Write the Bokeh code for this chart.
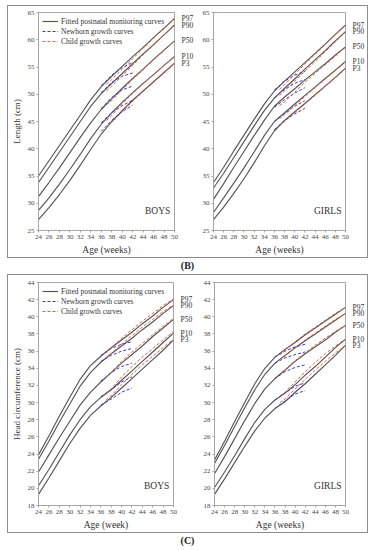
from bokeh.plotting import figure
from bokeh.layouts import row, column
from bokeh.models import (Div, Label, LinearAxis, FixedTicker, Legend, LegendItem, Range1d)
from bokeh.embed import file_html
from bokeh.resources import INLINE

# ---------------- data ----------------
WEEKS = [24, 26, 28, 30, 32, 34, 36, 38, 40, 42, 44, 46, 48, 50]
NEWBORN_WEEKS = [36, 38, 40, 42]
CHILD_WEEKS = [37, 38, 40, 42, 44, 46, 48, 50]
PERCENTILES = ["P97", "P90", "P50", "P10", "P3"]
X_TICKS = [24, 26, 28, 30, 32, 34, 36, 38, 40, 42, 44, 46, 48, 50]
LEN_TICKS = [25, 30, 35, 40, 45, 50, 55, 60, 65]
HC_TICKS = [18, 20, 22, 24, 26, 28, 30, 32, 34, 36, 38, 40, 42, 44]

# Length (cm), boys
BOYS_LEN_FIT = [
    [35.0, 37.8, 40.6, 43.4, 46.2, 49.0, 51.4, 53.3, 55.1, 56.9, 58.6, 60.4, 62.1, 63.9],
    [33.8, 36.6, 39.4, 42.2, 45.0, 47.8, 50.1, 52.0, 53.8, 55.6, 57.4, 59.1, 60.9, 62.7],
    [31.2, 33.8, 36.5, 39.3, 42.1, 44.8, 47.2, 49.2, 51.1, 52.9, 54.6, 56.4, 58.1, 59.8],
    [28.7, 31.0, 33.5, 36.2, 39.0, 41.9, 44.5, 46.6, 48.5, 50.3, 52.0, 53.6, 55.3, 56.9],
    [27.0, 29.2, 31.6, 34.2, 37.0, 39.9, 42.7, 45.0, 47.0, 48.9, 50.6, 52.3, 54.0, 55.7],
]
BOYS_LEN_NEWBORN = [
    [51.6, 53.5, 54.9, 55.8],
    [50.3, 52.2, 53.3, 53.9],
    [47.4, 49.4, 50.8, 51.5],
    [44.8, 46.6, 47.9, 48.9],
    [43.2, 45.2, 46.8, 48.0],
]
BOYS_LEN_CHILD = [
    [51.8, 52.7, 54.6, 56.5, 58.4, 60.3, 62.1, 63.9],
    [50.6, 51.5, 53.4, 55.3, 57.2, 59.0, 60.9, 62.7],
    [48.1, 48.8, 50.8, 52.7, 54.5, 56.3, 58.0, 59.8],
    [45.2, 46.1, 48.2, 50.1, 51.9, 53.6, 55.3, 57.0],
    [44.1, 44.8, 46.8, 48.7, 50.5, 52.2, 53.9, 55.6],
]

# Length (cm), girls
GIRLS_LEN_FIT = [
    [33.8, 36.6, 39.6, 42.5, 45.4, 48.2, 50.6, 52.4, 54.1, 55.8, 57.5, 59.2, 61.0, 62.7],
    [32.8, 35.5, 38.4, 41.3, 44.2, 47.0, 49.3, 51.1, 52.8, 54.6, 56.3, 58.0, 59.8, 61.5],
    [30.7, 33.6, 36.6, 39.5, 42.4, 45.2, 47.8, 49.5, 51.0, 52.6, 54.1, 55.6, 57.2, 58.7],
    [28.3, 31.0, 33.7, 36.5, 39.4, 42.4, 45.0, 46.6, 48.2, 49.8, 51.3, 52.9, 54.4, 56.0],
    [27.0, 29.3, 31.8, 34.5, 37.4, 40.5, 43.3, 45.2, 46.8, 48.3, 49.9, 51.5, 53.1, 54.8],
]
GIRLS_LEN_NEWBORN = [
    [50.8, 52.4, 53.5, 54.2],
    [49.4, 50.9, 52.0, 52.7],
    [47.6, 49.0, 50.2, 51.2],
    [45.0, 46.5, 47.8, 48.8],
    [43.5, 45.2, 46.4, 47.4],
]
GIRLS_LEN_CHILD = [
    [50.9, 51.8, 53.7, 55.5, 57.3, 59.1, 60.9, 62.7],
    [49.8, 50.6, 52.4, 54.2, 56.0, 57.8, 59.6, 61.4],
    [47.9, 48.6, 50.4, 52.2, 53.8, 55.4, 57.0, 58.6],
    [45.5, 46.2, 47.9, 49.6, 51.2, 52.8, 54.4, 56.0],
    [44.2, 45.0, 46.6, 48.2, 49.8, 51.4, 53.0, 54.7],
]

# Head circumference (cm), boys
BOYS_HC_FIT = [
    [23.9, 26.1, 28.4, 30.6, 32.7, 34.3, 35.4, 36.4, 37.3, 38.2, 39.2, 40.1, 41.1, 42.0],
    [23.4, 25.5, 27.7, 29.8, 31.9, 33.5, 34.7, 35.7, 36.6, 37.5, 38.5, 39.4, 40.4, 41.3],
    [21.9, 23.9, 25.9, 27.8, 29.7, 31.2, 32.4, 33.5, 34.6, 35.6, 36.6, 37.7, 38.7, 39.7],
    [20.3, 22.2, 24.2, 26.2, 28.0, 29.5, 30.6, 31.5, 32.6, 33.7, 34.8, 35.9, 37.0, 38.1],
    [19.3, 21.2, 23.2, 25.2, 27.0, 28.5, 29.6, 30.6, 31.7, 32.8, 33.9, 35.0, 36.1, 37.3],
]
BOYS_HC_NEWBORN = [
    [35.5, 36.3, 36.8, 37.1],
    [34.8, 35.5, 36.0, 36.3],
    [32.5, 33.5, 34.2, 34.6],
    [30.7, 31.5, 32.4, 33.0],
    [29.7, 30.4, 31.2, 31.7],
]
BOYS_HC_CHILD = [
    [35.8, 36.4, 37.5, 38.5, 39.5, 40.4, 41.3, 42.1],
    [35.2, 35.7, 36.8, 37.8, 38.8, 39.7, 40.6, 41.4],
    [33.0, 33.5, 34.8, 35.9, 36.9, 37.9, 38.9, 39.8],
    [31.1, 31.6, 33.0, 34.2, 35.3, 36.3, 37.3, 38.3],
    [30.3, 30.8, 32.1, 33.3, 34.4, 35.4, 36.4, 37.4],
]

# Head circumference (cm), girls
GIRLS_HC_FIT = [
    [23.3, 25.5, 27.8, 30.0, 32.2, 34.0, 35.3, 36.2, 37.0, 37.9, 38.7, 39.5, 40.3, 41.1],
    [22.9, 25.0, 27.2, 29.4, 31.5, 33.3, 34.6, 35.5, 36.4, 37.2, 38.0, 38.8, 39.6, 40.4],
    [21.7, 23.7, 25.8, 27.9, 29.9, 31.6, 32.8, 33.8, 34.8, 35.7, 36.5, 37.3, 38.2, 39.0],
    [20.1, 21.9, 23.8, 25.8, 27.7, 29.2, 30.3, 31.1, 32.1, 33.2, 34.2, 35.3, 36.4, 37.4],
    [19.3, 21.1, 23.0, 24.9, 26.7, 28.2, 29.3, 30.1, 31.2, 32.2, 33.3, 34.4, 35.5, 36.7],
]
GIRLS_HC_NEWBORN = [
    [35.3, 36.0, 36.5, 36.8],
    [34.6, 35.2, 35.6, 35.9],
    [32.8, 33.6, 34.1, 34.4],
    [30.3, 31.1, 31.9, 32.3],
    [29.3, 30.2, 31.0, 31.4],
]
GIRLS_HC_CHILD = [
    [35.6, 36.1, 37.1, 38.0, 38.8, 39.6, 40.4, 41.1],
    [34.9, 35.4, 36.4, 37.3, 38.1, 38.9, 39.7, 40.4],
    [33.3, 33.8, 34.9, 35.8, 36.7, 37.5, 38.3, 39.0],
    [30.8, 31.2, 32.4, 33.6, 34.7, 35.7, 36.6, 37.4],
    [30.0, 30.4, 31.6, 32.7, 33.8, 34.8, 35.8, 36.6],
]

LEGEND_LABELS = ["Fitted postnatal monitoring curves", "Newborn growth curves", "Child growth curves"]

# ---------------- style ----------------
FONT = "Liberation Serif"
FIT_COLOR = "#555555"
NB_COLOR = "#3b3bd0"
CH_COLOR = "#e2603f"
FRAME_COLOR = "#a6a6a6"
TEXT_COLOR = "#4a4a4a"
TITLE_COLOR = "#333333"


def make_panel(fit, newborn, child, yticks, ytitle, xtitle, sex, w, h,
               bl, br, bt, bb, legend):
    p = figure(width=w, height=h, x_range=Range1d(X_TICKS[0], X_TICKS[-1]),
               y_range=Range1d(yticks[0], yticks[-1]),
               output_backend="svg", toolbar_location=None,
               min_border_left=bl, min_border_right=br,
               min_border_top=bt, min_border_bottom=bb)
    p.grid.visible = False
    p.outline_line_color = FRAME_COLOR
    p.outline_line_width = 1
    p.background_fill_color = "white"
    p.border_fill_color = "white"

    fit_r, nb_r, ch_r = [], [], []
    for vals in fit:
        fit_r.append(p.line(WEEKS, vals, line_color=FIT_COLOR, line_width=1.15))
    for vals in newborn:
        nb_r.append(p.line(NEWBORN_WEEKS, vals, line_color=NB_COLOR, line_width=1,
                           line_dash="3 2"))
    for vals in child:
        ch_r.append(p.line(CHILD_WEEKS, vals, line_color=CH_COLOR, line_width=1,
                           line_dash="3 2"))

    for ax in (p.xaxis[0], p.yaxis[0]):
        ax.axis_line_color = FRAME_COLOR
        ax.major_tick_line_color = FRAME_COLOR
        ax.major_tick_out = 2
        ax.major_tick_in = 0
        ax.minor_tick_line_color = None
        ax.major_label_text_font = FONT
        ax.major_label_text_font_size = "7px"
        ax.major_label_text_color = TEXT_COLOR
        ax.major_label_standoff = 2
        ax.axis_label_text_font = FONT
        ax.axis_label_text_font_style = "normal"
        ax.axis_label_text_color = TITLE_COLOR
    p.xaxis.ticker = FixedTicker(ticks=X_TICKS)
    p.yaxis.ticker = FixedTicker(ticks=yticks)
    p.xaxis.axis_label = xtitle
    p.xaxis.axis_label_text_font_size = "9.5px"
    p.xaxis.axis_label_standoff = 3
    if ytitle:
        p.yaxis.axis_label = ytitle
        p.yaxis.axis_label_text_font_size = "9px"
        p.yaxis.axis_label_standoff = 3

    ends = [vals[-1] for vals in fit]
    ra = LinearAxis(ticker=FixedTicker(ticks=ends),
                    major_label_overrides={e: lab for e, lab in zip(ends, PERCENTILES)})
    ra.axis_line_color = None
    ra.major_tick_line_color = None
    ra.minor_tick_line_color = None
    ra.major_label_text_font = FONT
    ra.major_label_text_font_size = "7.5px"
    ra.major_label_text_color = TITLE_COLOR
    ra.major_label_standoff = 1
    p.add_layout(ra, "right")

    span = yticks[-1] - yticks[0]
    p.add_layout(Label(x=X_TICKS[-1] - 0.8, y=yticks[0] + span * 0.065, text=sex,
                       text_align="right", text_baseline="bottom",
                       text_font=FONT, text_font_size="9.5px", text_color=TITLE_COLOR))

    if legend:
        lg = Legend(items=[LegendItem(label=LEGEND_LABELS[0], renderers=[fit_r[0]]),
                           LegendItem(label=LEGEND_LABELS[1], renderers=[nb_r[0]]),
                           LegendItem(label=LEGEND_LABELS[2], renderers=[ch_r[0]])],
                    location="top_left")
        lg.background_fill_alpha = 0
        lg.border_line_color = None
        lg.label_text_font = FONT
        lg.label_text_font_size = "7.5px"
        lg.label_text_color = TITLE_COLOR
        lg.glyph_width = 16
        lg.glyph_height = 10
        lg.label_height = 10
        lg.label_standoff = 3
        lg.spacing = 0
        lg.padding = 2
        lg.margin = 4
        p.add_layout(lg)
    return p


p1 = make_panel(BOYS_LEN_FIT, BOYS_LEN_NEWBORN, BOYS_LEN_CHILD, LEN_TICKS,
                "Length (cm)", "Age (weeks)", "BOYS", 188, 251, 28, 20, 6, 27, True)
p2 = make_panel(GIRLS_LEN_FIT, GIRLS_LEN_NEWBORN, GIRLS_LEN_CHILD, LEN_TICKS,
                None, "Age (weeks)", "GIRLS", 171, 251, 17, 17, 6, 27, False)
p3 = make_panel(BOYS_HC_FIT, BOYS_HC_NEWBORN, BOYS_HC_CHILD, HC_TICKS,
                "Head circumference (cm)", "Age (week)", "BOYS", 188, 257, 27, 23, 7, 25, True)
p4 = make_panel(GIRLS_HC_FIT, GIRLS_HC_NEWBORN, GIRLS_HC_CHILD, HC_TICKS,
                None, "Age (weeks)", "GIRLS", 171, 257, 18, 17, 7, 25, False)

BOX = {"border": "1px solid #8c8c8c", "background-color": "white"}
top = row(p1, p2, styles=BOX, margin=0)
bottom = row(p3, p4, styles=BOX, margin=0)
LBL = {"text-align": "center", "font-family": FONT, "font-size": "10px",
       "font-weight": "bold", "color": "#222222", "line-height": "16px"}
div_b = Div(text="(B)", width=361, height=16, styles=LBL, margin=0)
div_c = Div(text="(C)", width=361, height=15, styles=LBL, margin=0)

layout = column(top, div_b, bottom, div_c, margin=(5, 0, 0, 7))
open("out.html", "w").write(file_html(layout, INLINE))
